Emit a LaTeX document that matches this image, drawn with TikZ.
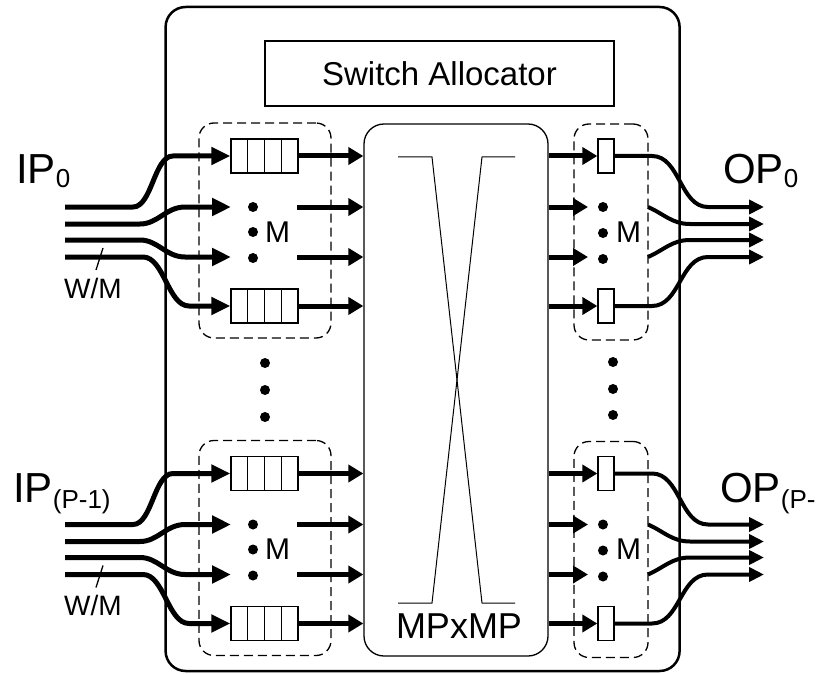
\documentclass[tikz,border=0pt]{standalone}
\usepackage{fontspec}
\setmainfont{Liberation Sans}
\usetikzlibrary{arrows.meta,calc}
\begin{document}
\begin{tikzpicture}[x=1pt,y=-1pt,
  thinline/.style={line width=1.3pt},
  busarr/.style={line width=5pt,-{Triangle[length=19pt,width=17pt]}},
  midarr/.style={line width=5pt,-{Triangle[length=15pt,width=17pt]}},
  outarr/.style={line width=4pt,-{Triangle[length=15pt,width=14pt]}},
  outline/.style={line width=4pt},
  queuebox/.style={draw,line width=1.3pt,minimum width=67pt,minimum height=34pt,inner sep=0pt},
  slotbox/.style={draw,line width=1.3pt,minimum width=16pt,minimum height=34pt,inner sep=0pt},
  groupbox/.style={draw,line width=1.3pt,rounded corners=15pt,dash pattern=on 9pt off 5pt,inner sep=0pt},
  dotnode/.style={circle,fill,inner sep=0pt,minimum size=10pt},
  lbl/.style={inner sep=0pt,anchor=base west}
]
\useasboundingbox (0,0) rectangle (817,674);

% outer router box
\node[draw,line width=2.5pt,rounded corners=20pt,minimum width=514pt,minimum height=664pt,inner sep=0pt] (router) at (422.6,339) {};

% switch allocator
\node[draw,line width=1.3pt,minimum width=349pt,minimum height=65pt,inner sep=0pt] (sa) at (439.5,73.5)
  {\fontsize{33}{33}\selectfont Switch Allocator};

% crossbar
\node[draw,line width=1.3pt,rounded corners=20pt,minimum width=184pt,minimum height=532pt,inner sep=0pt] (xbar) at (456,390) {};
\node[lbl,anchor=base] (xbarlbl) at (459,638) {\fontsize{36}{36}\selectfont MPxMP};
\coordinate (c1) at (398,157); \coordinate (c2) at (432,157);
\coordinate (c3) at (482,603); \coordinate (c4) at (515,603);
\coordinate (c5) at (515,157); \coordinate (c6) at (482,157);
\coordinate (c7) at (432,603); \coordinate (c8) at (398,603);
\draw[thinline,line width=1pt] (c1) -- (c2) -- (c3) -- (c4);
\draw[thinline,line width=1pt] (c5) -- (c6) -- (c7) -- (c8);

% vertical dots between groups
\node[dotnode] (vd1) at (265,363) {};
\node[dotnode] (vd2) at (265,390) {};
\node[dotnode] (vd3) at (265,417) {};
\node[dotnode] (vd4) at (613,362) {};
\node[dotnode] (vd5) at (613,389) {};
\node[dotnode] (vd6) at (613,415) {};

% labels
\node[lbl] (ip0) at (16,183) {\fontsize{42}{42}\selectfont IP\raisebox{-5pt}{\fontsize{26}{26}\selectfont 0}};
\node[lbl] (ipp) at (13,502) {\fontsize{42}{42}\selectfont IP\raisebox{-6pt}{\fontsize{26}{26}\selectfont (P-1)}};
\node[lbl] (op0) at (723,183) {\fontsize{42}{42}\selectfont OP\raisebox{-5pt}{\fontsize{26}{26}\selectfont 0}};
\node[lbl] (opp) at (720,502) {\fontsize{42}{42}\selectfont OP\raisebox{-6pt}{\fontsize{26}{26}\selectfont (P-1)}};

\foreach \g/\oy in {a/0,b/317.5}{
  \begin{scope}[yshift=-\oy pt]
  % input group
  \node[groupbox,minimum width=132pt,minimum height=215pt] (ig\g) at (265,230.5) {};
  \node[queuebox] (qa\g) at (264.5,156) {};
  \node[queuebox] (qb\g) at (264.5,306) {};
  \foreach \q in {qa\g,qb\g}{
    \foreach \k in {1,2,3}
      \draw[thinline] ($(\q.north west)!\k/4!(\q.north east)$) -- ($(\q.south west)!\k/4!(\q.south east)$);
  }
  \node[dotnode] (ida\g) at (253,207) {};
  \node[dotnode] (idb\g) at (253,232) {};
  \node[dotnode] (idc\g) at (253,258) {};
  \node[lbl] (im\g) at (265,242) {\fontsize{30}{30}\selectfont M};

  % inputs
  \coordinate (in1\g) at (65,207);
  \coordinate (in2\g) at (65,224);
  \coordinate (in3\g) at (65,240);
  \coordinate (in4\g) at (65,257);
  \coordinate (t2\g) at (231,207);
  \coordinate (t3\g) at (231,257);
  \draw[busarr] (in1\g) -- (133,207) .. controls (152,207) and (154,156) .. (173,156) -- (qa\g.west);
  \draw[busarr] (in2\g) -- (140,224) .. controls (158,224) and (166,207) .. (185,207) -- (t2\g);
  \draw[busarr] (in3\g) -- (140,240) .. controls (158,240) and (166,257) .. (185,257) -- (t3\g);
  \draw[busarr] (in4\g) -- (143,257) .. controls (164,257) and (168,306) .. (189,306) -- (qb\g.west);
  \coordinate (sl1\g) at (103,248);
  \coordinate (sl2\g) at (96,270);
  \draw[thinline] (sl1\g) -- (sl2\g);
  \node[lbl] (wm\g) at (64,298) {\fontsize{28}{28}\selectfont W/M};

  % to crossbar
  \coordinate (m2\g) at (297,207);
  \coordinate (m3\g) at (297,257);
  \draw[midarr] (qa\g.east) -- (qa\g.east -| xbar.west);
  \draw[midarr] (m2\g) -- (m2\g -| xbar.west);
  \draw[midarr] (m3\g) -- (m3\g -| xbar.west);
  \draw[midarr] (qb\g.east) -- (qb\g.east -| xbar.west);

  % output group
  \node[groupbox,minimum width=74pt,minimum height=216pt] (og\g) at (611,232) {};
  \node[slotbox] (sa\g) at (606,156) {};
  \node[slotbox] (sb\g) at (606,306) {};
  \node[dotnode] (oda\g) at (603,207) {};
  \node[dotnode] (odb\g) at (603,233) {};
  \node[dotnode] (odc\g) at (603,259) {};
  \node[lbl] (om\g) at (616,242) {\fontsize{30}{30}\selectfont M};
  \coordinate (u2\g) at (588,207);
  \coordinate (u3\g) at (588,257);
  \draw[midarr] (sa\g.west -| xbar.east) -- (sa\g.west);
  \draw[midarr] (u2\g -| xbar.east) -- (u2\g);
  \draw[midarr] (u3\g -| xbar.east) -- (u3\g);
  \draw[midarr] (sb\g.west -| xbar.east) -- (sb\g.west);

  % outputs
  \coordinate (o1\g) at (764,207);
  \coordinate (o2\g) at (764,224);
  \coordinate (o3\g) at (764,240);
  \coordinate (o4\g) at (764,257);
  \coordinate (os2\g) at (648,207);
  \coordinate (os3\g) at (648,257);
  \draw[outarr] (sa\g.east) -- (652,156) .. controls (680,156) and (680,207) .. (708,207) -- (o1\g);
  \draw[outarr] (os2\g) .. controls (664,214) and (672,224) .. (690,224) -- (o2\g);
  \draw[outarr] (os3\g) .. controls (664,250) and (672,240) .. (690,240) -- (o3\g);
  \draw[outarr] (sb\g.east) -- (652,306) .. controls (680,306) and (680,257) .. (708,257) -- (o4\g);
  \end{scope}
}
\end{tikzpicture}
\end{document}
